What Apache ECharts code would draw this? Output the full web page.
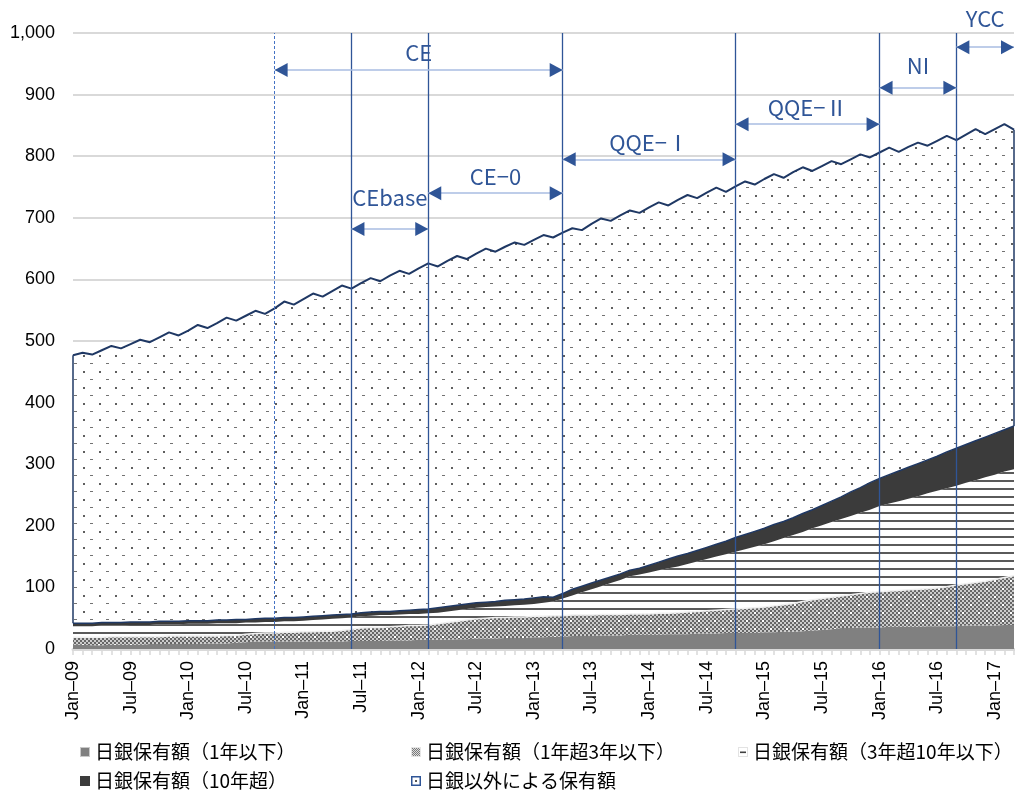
<!DOCTYPE html>
<html>
<head>
<meta charset="utf-8">
<title>国債保有額の推移</title>
<script src="https://cdn.jsdelivr.net/npm/echarts/dist/echarts.min.js"></script>
<style>
  html, body { margin: 0; padding: 0; background: #ffffff; }
  #chart { width: 1015px; height: 796px; }
</style>
</head>
<body>
<div id="chart"></div>
<script>
// Monthly categories, Jan-09 .. Mar-17
const categories = [
  'Jan-09','Feb-09','Mar-09','Apr-09','May-09','Jun-09','Jul-09','Aug-09','Sep-09','Oct-09','Nov-09','Dec-09',
  'Jan-10','Feb-10','Mar-10','Apr-10','May-10','Jun-10','Jul-10','Aug-10','Sep-10','Oct-10','Nov-10','Dec-10',
  'Jan-11','Feb-11','Mar-11','Apr-11','May-11','Jun-11','Jul-11','Aug-11','Sep-11','Oct-11','Nov-11','Dec-11',
  'Jan-12','Feb-12','Mar-12','Apr-12','May-12','Jun-12','Jul-12','Aug-12','Sep-12','Oct-12','Nov-12','Dec-12',
  'Jan-13','Feb-13','Mar-13','Apr-13','May-13','Jun-13','Jul-13','Aug-13','Sep-13','Oct-13','Nov-13','Dec-13',
  'Jan-14','Feb-14','Mar-14','Apr-14','May-14','Jun-14','Jul-14','Aug-14','Sep-14','Oct-14','Nov-14','Dec-14',
  'Jan-15','Feb-15','Mar-15','Apr-15','May-15','Jun-15','Jul-15','Aug-15','Sep-15','Oct-15','Nov-15','Dec-15',
  'Jan-16','Feb-16','Mar-16','Apr-16','May-16','Jun-16','Jul-16','Aug-16','Sep-16','Oct-16','Nov-16','Dec-16',
  'Jan-17','Feb-17','Mar-17'
];

const seriesNames = [
  '日銀保有額（1年以下）',
  '日銀保有額（1年超3年以下）',
  '日銀保有額（3年超10年以下）',
  '日銀保有額（10年超）',
  '日銀以外による保有額'
];

// 日銀保有額（1年以下）
const bojUpTo1y = [
  7,7,6,6,7,7,7,7,8,8,8,8,
  8,8,9,9,9,10,11,12,12,12,12,12,
  12,12,12,12,12,13,13,13,13,14,14,14,
  15,15,15,15,16,16,17,17,17,18,18,18,
  19,19,20,20,21,21,21,22,22,22,23,23,
  23,23,24,24,24,25,25,25,26,26,26,26,
  27,27,28,28,29,30,31,32,34,34,35,35,
  35,36,36,36,36,37,37,37,37,38,38,38,
  38,39,39
];

// 日銀保有額（1年超3年以下）
const boj1to3y = [
  12,12,13,13,13,13,13,13,12,12,13,13,
  13,13,12,12,13,12,13,13,14,14,15,15,
  16,16,17,17,18,19,21,22,22,22,23,24,
  23,24,26,28,29,31,32,33,34,33,34,34,
  34,34,34,34,34,34,34,34,34,34,34,34,
  34,35,34,35,36,36,37,38,38,39,40,41,
  41,43,44,46,48,50,51,52,52,54,55,57,
  58,58,59,60,61,61,62,64,67,68,70,72,
  75,77,80
];

// 日銀保有額（3年超10年以下）
const boj3to10y = [
  18,18,18,19,18,18,19,19,19,20,19,19,
  20,20,20,21,20,20,19,18,18,18,18,18,
  18,19,19,20,20,19,19,19,20,19,19,19,
  19,19,18,18,18,18,18,18,18,19,19,20,
  20,22,23,28,32,37,42,46,51,56,61,64,
  67,70,73,75,78,81,84,87,90,93,96,99,
  102,105,108,111,113,116,119,122,125,128,131,134,
  139,142,145,148,151,155,158,160,161,164,166,169,
  170,172,173
];

// 日銀保有額（10年超）
const bojOver10y = [
  5,5,5,5,5,5,5,5,5,5,5,5,
  5,5,5,5,5,6,5,6,6,6,6,6,
  6,6,6,6,6,6,6,6,6,6,6,6,
  7,7,8,8,8,8,8,8,8,9,9,9,
  10,10,7,8,10,10,10,10,10,10,10,10,
  12,13,15,17,17,18,19,20,21,23,24,25,
  26,27,27,28,30,30,32,34,36,39,41,44,
  45,47,49,51,53,54,56,59,61,62,64,65,
  67,68,70
];

// 日銀以外による保有額
const nonBoj = [
  435,439,436,442,449,445,451,458,454,461,469,464,
  471,480,475,482,491,485,493,500,494,503,513,508,
  516,524,518,526,534,528,535,542,536,545,552,546,
  554,561,554,561,567,560,567,574,568,574,580,575,
  581,587,584,586,586,578,583,587,578,582,584,577,
  581,584,574,578,582,572,576,579,567,570,573,563,
  567,569,558,561,562,550,551,552,540,540,541,528,
  529,531,518,520,521,510,512,513,500,503,506,492,
  494,496,481
];

// Policy regimes: label, start month, end month, arrow level
const regimeLabels = ['CE', 'CEbase', 'CE\u22120', 'QQE\u2212\u2160', 'QQE\u2212\u2161', 'NI', 'YCC'];
const regimeStart  = ['Oct-10', 'Jun-11', 'Feb-12', 'Apr-13', 'Oct-14', 'Jan-16', 'Sep-16'];
const regimeEnd    = ['Apr-13', 'Feb-12', 'Apr-13', 'Oct-14', 'Jan-16', 'Sep-16', 'Mar-17'];
const regimeLevel  = [940, 682, 740, 795, 852, 911, 977];
const regimeLabelGap = [6, 20, 6, 6, 6, 11, 18];

// Vertical markers at regime changes (first one drawn dashed)
const markerMonths = ['Oct-10', 'Jun-11', 'Feb-12', 'Apr-13', 'Oct-14', 'Jan-16', 'Sep-16'];

const yTicks = { min: 0, max: 1000, step: 100 };

// ---------- fill patterns ----------
function makeTile(w, h, draw) {
  const c = document.createElement('canvas');
  c.width = w; c.height = h;
  const ctx = c.getContext('2d');
  draw(ctx, w, h);
  return c;
}

const dotTile = makeTile(16, 16, (ctx, w, h) => {
  ctx.fillStyle = '#ffffff'; ctx.fillRect(0, 0, w, h);
  ctx.fillStyle = '#5e5e5e'; ctx.fillRect(3, 3, 2, 2);
  ctx.fillStyle = '#727272'; ctx.fillRect(10, 11, 3, 1);
});

const stripeTile = makeTile(8, 8, (ctx, w, h) => {
  ctx.fillStyle = '#ffffff'; ctx.fillRect(0, 0, w, h);
  ctx.fillStyle = '#5a5a5a'; ctx.fillRect(0, 0, w, 2);
});

const checkerTile = makeTile(16, 16, (ctx, w, h) => {
  for (let y = 0; y < h; y += 2) {
    for (let x = 0; x < w; x += 2) {
      ctx.fillStyle = ((x + y) / 2) % 2 === 0 ? '#666666' : '#cccccc';
      ctx.fillRect(x, y, 2, 2);
    }
  }
  ctx.fillStyle = '#ffffff';
  ctx.fillRect(2, 4, 2, 2);
  ctx.fillRect(10, 12, 2, 2);
});

const pattern = (tile) => ({ image: tile, repeat: 'repeat' });

// ---------- legend icons ----------
function iconURL(draw) {
  const c = makeTile(10, 10, draw);
  return 'image://' + c.toDataURL();
}
const legendIcons = [
  iconURL((ctx) => { ctx.fillStyle = '#c9c9c9'; ctx.fillRect(0, 0, 10, 10); ctx.fillStyle = '#808080'; ctx.fillRect(1, 1, 8, 8); }),
  iconURL((ctx) => {
    ctx.fillStyle = '#e6e6e6'; ctx.fillRect(0, 0, 10, 10);
    for (let y = 1; y < 9; y++) for (let x = 1; x < 9; x++) {
      ctx.fillStyle = (x + y) % 2 === 0 ? '#7a7a7a' : '#dcdcdc';
      ctx.fillRect(x, y, 1, 1);
    }
  }),
  iconURL((ctx) => { ctx.fillStyle = '#e3e3e3'; ctx.fillRect(0, 0, 10, 10); ctx.fillStyle = '#ffffff'; ctx.fillRect(1, 1, 8, 8); ctx.fillStyle = '#404040'; ctx.fillRect(2, 4.5, 6, 1.6); }),
  iconURL((ctx) => { ctx.fillStyle = '#3b3b3b'; ctx.fillRect(0, 0, 10, 10); }),
  iconURL((ctx) => { ctx.fillStyle = '#2f5597'; ctx.fillRect(0, 0, 10, 10); ctx.fillStyle = '#ffffff'; ctx.fillRect(1.5, 1.5, 7, 7); ctx.fillStyle = '#555555'; ctx.fillRect(4, 4, 2, 2); })
];

// ---------- annotation lines ----------
const BLUE = '#2f5597';
const NAVY = '#1f3864';
const labelFont = '"Noto Sans CJK JP", "Noto Sans", sans-serif';

const markLineData = [];

markerMonths.forEach((m, k) => {
  markLineData.push([
    { coord: [m, yTicks.min], lineStyle: { color: k === 0 ? '#4472c4' : BLUE, width: k === 0 ? 1 : 1.3, type: k === 0 ? [3, 2] : 'solid' } },
    { coord: [m, yTicks.max] }
  ]);
});

regimeLabels.forEach((name, k) => {
  // shaft with label
  markLineData.push([
    { coord: [regimeStart[k], regimeLevel[k]],
      lineStyle: { color: '#a9bde2', width: 1.5, type: 'solid' },
      label: { show: true, position: 'middle', formatter: name, distance: regimeLabelGap[k],
               color: BLUE, fontSize: 22, fontFamily: labelFont } },
    { coord: [regimeEnd[k], regimeLevel[k]] }
  ]);
  // arrow heads
  const head = { symbol: 'triangle', symbolSize: [14, 13], symbolOffset: [0, '50%'] };
  markLineData.push([
    Object.assign({ coord: [regimeStart[k], regimeLevel[k]], lineStyle: { color: BLUE, width: 0 } }, head),
    Object.assign({ coord: [regimeEnd[k], regimeLevel[k]] }, head)
  ]);
});

// Outline of the non-BOJ area at both ends of the period
[0, categories.length - 1].forEach((i) => {
  const base = bojUpTo1y[i] + boj1to3y[i] + boj3to10y[i] + bojOver10y[i];
  markLineData.push([
    { coord: [categories[i], base], lineStyle: { color: NAVY, width: 1.5, type: 'solid' } },
    { coord: [categories[i], base + nonBoj[i]] }
  ]);
});

// ---------- chart ----------
const stackBase = {
  type: 'line', stack: 'holdings', symbol: 'none', showSymbol: false,
  smooth: false, silent: true, emphasis: { disabled: true }
};

const legendText = { fontSize: 19, color: '#000000', fontFamily: '"Noto Sans CJK JP", sans-serif', lineHeight: 20 };
const legendBox = (left, idx) => ({
  left: left, top: 742, orient: 'vertical', padding: 0, itemGap: 9,
  itemWidth: 10, itemHeight: 10, selectedMode: false, textStyle: legendText,
  data: idx.map((k) => ({ name: seriesNames[k], icon: legendIcons[k] }))
});

const option = {
  animation: false,
  backgroundColor: '#ffffff',
  grid: { left: 73, right: 1, top: 33, bottom: 147, containLabel: false, outerBoundsMode: 'none' },
  xAxis: {
    type: 'category',
    data: categories,
    boundaryGap: false,
    axisLine: { lineStyle: { color: '#d9d9d9', width: 3 } },
    axisTick: { show: true, interval: 0, length: 6, lineStyle: { color: '#d9d9d9', width: 1.5 } },
    axisLabel: {
      interval: 5, rotate: 90, margin: 12, fontSize: 18, color: '#000000',
      fontFamily: '"Liberation Sans", Arial, sans-serif',
      formatter: (v) => v.replace('-', '\u2013')
    },
    splitLine: { show: false }
  },
  yAxis: {
    type: 'value',
    min: yTicks.min, max: yTicks.max, interval: yTicks.step,
    axisLine: { show: false },
    axisTick: { show: false },
    axisLabel: {
      margin: 18, fontSize: 18, color: '#000000',
      fontFamily: '"Liberation Sans", Arial, sans-serif',
      formatter: (v) => v.toLocaleString('en-US')
    },
    splitLine: { lineStyle: { color: '#d9d9d9', width: 2 } }
  },
  legend: [legendBox(80, [0, 3]), legendBox(411, [1, 4]), legendBox(738, [2])],
  series: [
    Object.assign({}, stackBase, {
      name: seriesNames[0], data: bojUpTo1y, color: '#808080',
      areaStyle: { color: '#808080', opacity: 1 }, lineStyle: { width: 0 }
    }),
    Object.assign({}, stackBase, {
      name: seriesNames[1], data: boj1to3y, color: '#999999',
      areaStyle: { color: pattern(checkerTile), opacity: 1 }, lineStyle: { width: 1.5, color: '#f0f0f0' }
    }),
    Object.assign({}, stackBase, {
      name: seriesNames[2], data: boj3to10y, color: '#5a5a5a',
      areaStyle: { color: pattern(stripeTile), opacity: 1 }, lineStyle: { width: 0 }
    }),
    Object.assign({}, stackBase, {
      name: seriesNames[3], data: bojOver10y, color: '#3b3b3b',
      areaStyle: { color: '#3b3b3b', opacity: 1 }, lineStyle: { width: 1.5, color: NAVY }
    }),
    Object.assign({}, stackBase, {
      name: seriesNames[4], data: nonBoj, color: NAVY,
      areaStyle: { color: pattern(dotTile), opacity: 1 }, lineStyle: { width: 2, color: NAVY }
    }),
    {
      type: 'line', name: 'regimes', silent: true, symbol: 'none',
      data: categories.map(() => null),
      markLine: {
        silent: true, symbol: 'none', animation: false,
        label: { show: false },
        emphasis: { disabled: true },
        data: markLineData
      }
    }
  ]
};

const chart = echarts.init(document.getElementById('chart'), null, { renderer: 'canvas' });
chart.setOption(option);
</script>
</body>
</html>
